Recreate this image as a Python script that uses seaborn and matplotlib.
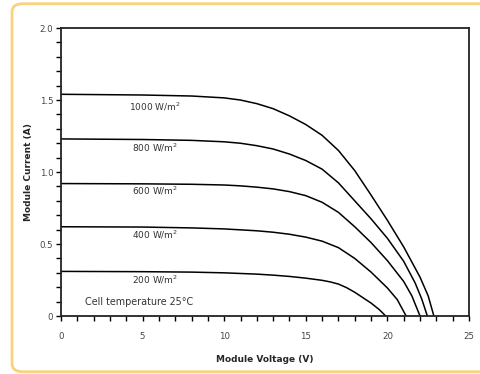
import pandas as pd
import matplotlib.pyplot as plt
import seaborn as sns
from matplotlib.patches import FancyBboxPatch
from matplotlib.ticker import MultipleLocator

# I-V curves (voltage V, current A)
v_1000 = [0, 5, 8, 10, 11, 12, 13, 14, 15, 16, 17, 18, 19, 20, 21, 22, 22.5, 22.85]
i_1000 = [1.54, 1.535, 1.528, 1.515, 1.5, 1.475, 1.44, 1.39, 1.33, 1.255, 1.15, 1.01,
          0.84, 0.665, 0.48, 0.27, 0.14, 0.0]
v_800 = [0, 5, 8, 10, 11, 12, 13, 14, 15, 16, 17, 18, 19, 20, 21, 21.7, 22.1, 22.45]
i_800 = [1.23, 1.226, 1.22, 1.21, 1.2, 1.183, 1.16, 1.125, 1.08, 1.02, 0.925, 0.8,
         0.675, 0.54, 0.38, 0.23, 0.12, 0.0]
v_600 = [0, 5, 8, 10, 11, 12, 13, 14, 15, 16, 17, 18, 19, 20, 21, 21.5, 22.0]
i_600 = [0.92, 0.918, 0.915, 0.91, 0.904, 0.895, 0.883, 0.864, 0.836, 0.79, 0.72, 0.62,
         0.51, 0.385, 0.24, 0.14, 0.0]
v_400 = [0, 5, 8, 10, 12, 13, 14, 15, 16, 17, 18, 19, 20, 20.6, 21.15]
i_400 = [0.62, 0.618, 0.612, 0.605, 0.592, 0.582, 0.568, 0.548, 0.52, 0.475, 0.4, 0.305,
         0.195, 0.115, 0.0]
v_200 = [0, 5, 8, 10, 12, 13, 14, 15, 16, 16.5, 17, 17.5, 18, 19, 19.5, 19.9]
i_200 = [0.31, 0.308, 0.305, 0.3, 0.291, 0.284, 0.275, 0.263, 0.248, 0.237, 0.222, 0.197,
         0.165, 0.09, 0.045, 0.0]

irradiance = ['1000', '800', '600', '400', '200']
label_y = [1.453, 1.167, 0.87, 0.5625, 0.25]

curves = {'1000': (v_1000, i_1000), '800': (v_800, i_800), '600': (v_600, i_600),
          '400': (v_400, i_400), '200': (v_200, i_200)}
rows = []
for key, (vs, cs) in curves.items():
    for v, c in zip(vs, cs):
        rows.append({'irr': key, 'V': v, 'I': c})
df = pd.DataFrame(rows)

sns.set_style("white")
plt.rcParams['font.family'] = ['DejaVu Sans']

fig = plt.figure(figsize=(4.81, 3.74), dpi=100)
ax = fig.add_axes([0.1268, 0.155, 0.8482, 0.770])

sns.lineplot(data=df, x='V', y='I', hue='irr', units='irr', estimator=None, sort=False,
             palette=['black'] * 5, linewidth=1.1, legend=False, ax=ax)

for name, y in zip(irradiance, label_y):
    ax.text(5.75, y, f'{name} W/m$^2$', ha='center', va='center', fontsize=6.5, color='#333333')
ax.text(1.5, 0.1, 'Cell temperature 25°C', ha='left', va='center', fontsize=6.9, color='#333333')

ax.set_xlim(0, 25)
ax.set_ylim(0, 2.0)
ax.xaxis.set_minor_locator(MultipleLocator(1))
ax.yaxis.set_minor_locator(MultipleLocator(0.1))
ax.set_xticks([0, 5, 10, 15, 20, 25])
ax.set_xticklabels(['0', '5', '10', '15', '20', '25'])
ax.set_yticks([0, 0.5, 1.0, 1.5, 2.0])
ax.set_yticklabels(['0', '0.5', '1.0', '1.5', '2.0'])
ax.tick_params(axis='both', which='both', direction='out', length=3.5, width=1.0,
               color='black', labelsize=6.2, labelcolor='#444444')
ax.tick_params(axis='x', which='major', pad=8)
ax.tick_params(axis='y', which='major', pad=2)
ax.tick_params(bottom=True, left=True, which='both')
for s in ax.spines.values():
    s.set_color('#222222')
    s.set_linewidth(1.3)

ax.set_xlabel('Module Voltage (V)', fontsize=6.5, fontweight='bold', labelpad=10)
ax.set_ylabel('Module Current (A)', fontsize=6.5, fontweight='bold', labelpad=5)

frame = FancyBboxPatch((0.025, 0.006), 1.2, 0.984, boxstyle='round,pad=0,rounding_size=0.022',
                       transform=fig.transFigure, facecolor='none', edgecolor='#F8D27C',
                       linewidth=2.0, zorder=-1)
fig.patches.append(frame)

fig.savefig('out.png', dpi=100)
